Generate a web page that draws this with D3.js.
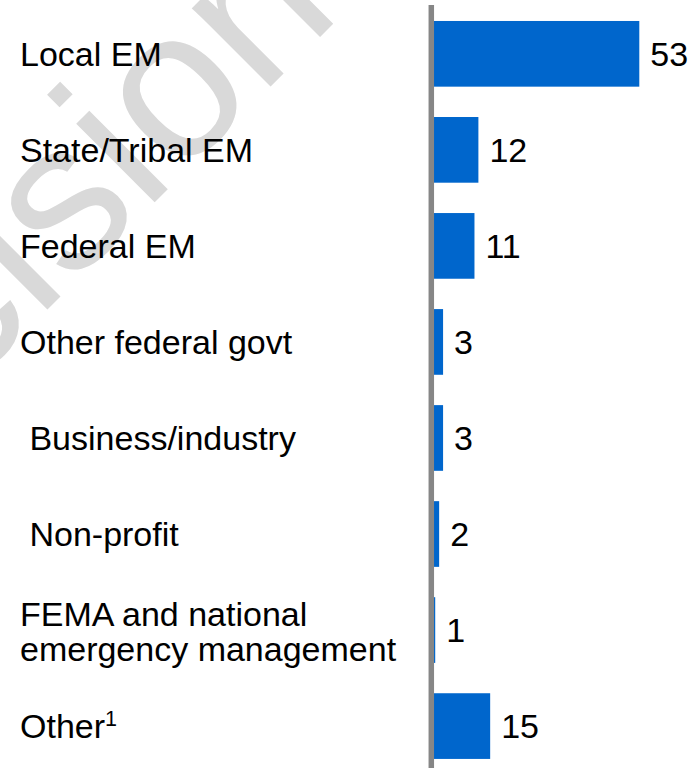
<!DOCTYPE html>
<html>
<head>
<meta charset="utf-8">
<script src="https://cdn.jsdelivr.net/npm/d3@7"></script>
<style>
  html, body { margin: 0; padding: 0; background: #ffffff; }
  svg { display: block; font-family: "Liberation Sans", Arial, sans-serif; }
</style>
</head>
<body>
<svg id="chart" width="699" height="768"></svg>
<script>
// Respondent affiliation counts
const categories = [
  "Local EM",
  "State/Tribal EM",
  "Federal EM",
  "Other federal govt",
  " Business/industry",
  " Non-profit",
  "FEMA and national|emergency management",
  "Other"
];
const values = [53, 12, 11, 3, 3, 2, 1, 15];
const footnoteMarks = ["", "", "", "", "", "", "", "1"];
const watermarkText = "Predecisional";

const W = 699, H = 768;
const svg = d3.select("#chart");

// Diagonal watermark behind everything
svg.append("text")
  .attr("transform", "translate(-433,790) rotate(-45)")
  .attr("font-size", 210)
  .attr("fill", "#d9d9d9")
  .text(watermarkText);

const data = categories.map((c, i) => ({ cat: c, value: values[i], mark: footnoteMarks[i] }));

const x = d3.scaleLinear().domain([0, 53]).range([431.3, 639.3]);
const y = d3.scaleBand().domain(categories).range([5.8, 774.1]).paddingInner(0.316).paddingOuter(0.158);

// Bars
svg.append("g").selectAll("rect")
  .data(data)
  .join("rect")
  .attr("x", x(0))
  .attr("y", d => y(d.cat))
  .attr("width", d => x(d.value) - x(0))
  .attr("height", y.bandwidth())
  .attr("fill", "#0066cc");

// Category axis line
svg.append("line")
  .attr("x1", x(0)).attr("x2", x(0))
  .attr("y1", 5).attr("y2", H)
  .attr("stroke", "#868686")
  .attr("stroke-width", 5.5);

// Category labels
const fs = 34;
const labels = svg.append("g")
  .attr("font-size", fs)
  .attr("fill", "#000");

data.forEach(d => {
  const cy = y(d.cat) + y.bandwidth() / 2;
  const lines = d.cat.split("|");
  const t = labels.append("text")
    .attr("x", 20)
    .attr("xml:space", "preserve")
    .style("white-space", "pre");
  if (lines.length === 1) {
    t.attr("y", cy + 12).text(lines[0]);
    if (d.mark) {
      t.append("tspan")
        .attr("font-size", 21.5)
        .attr("dy", -12)
        .text(d.mark);
    }
  } else {
    lines.forEach((ln, i) => {
      t.append("tspan")
        .attr("x", 20)
        .attr("y", cy - 4 + i * 35)
        .text(ln);
    });
  }
});

// Value labels
svg.append("g")
  .attr("font-size", fs)
  .attr("fill", "#000")
  .selectAll("text")
  .data(data)
  .join("text")
  .attr("x", d => x(d.value) + 11)
  .attr("y", d => y(d.cat) + y.bandwidth() / 2 + 12)
  .text(d => d.value);
</script>
</body>
</html>
